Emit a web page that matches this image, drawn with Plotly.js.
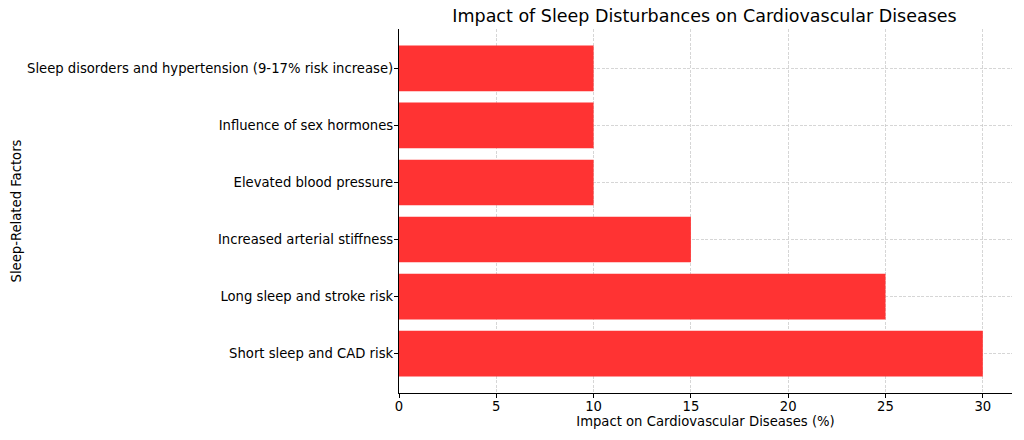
<!DOCTYPE html>
<html>
<head>
<meta charset="utf-8">
<script src="https://cdn.plot.ly/plotly-3.0.1.min.js"></script>
<style>html,body{margin:0;padding:0;background:#fff;}#chart{width:1024px;height:440px;}</style>
</head>
<body>
<div id="chart"></div>
<script>
const categories = [
  "Short sleep and CAD risk",
  "Long sleep and stroke risk",
  "Increased arterial stiffness",
  "Elevated blood pressure",
  "Influence of sex hormones",
  "Sleep disorders and hypertension (9-17% risk increase)"
];
const impactValues = [30, 25, 15, 10, 10, 10];
const xTickValues = [0, 5, 10, 15, 20, 25, 30];

const font = "DejaVu Sans, sans-serif";
const trace = {
  type: "bar",
  orientation: "h",
  y: categories,
  x: impactValues,
  marker: {color: "#ff3333", line: {width: 0}},
  hoverinfo: "skip"
};
const layout = {
  width: 1024, height: 440,
  margin: {l: 399, r: 12, t: 29, b: 47},
  paper_bgcolor: "#fff", plot_bgcolor: "#fff",
  bargap: 0.2,
  showlegend: false,
  title: {text: "Impact of Sleep Disturbances on Cardiovascular Diseases",
          font: {family: font, size: 17.5, color: "#000"},
          x: 0.688, xanchor: "center", y: 0.963, yanchor: "middle"},
  xaxis: {
    range: [0, 31.5], tickvals: xTickValues, ticktext: xTickValues.map(String),
    showline: true, linecolor: "#000", linewidth: 1.2,
    ticks: "outside", ticklen: 4, tickcolor: "#000", tickwidth: 1,
    ticklabelstandoff: -3,
    showgrid: true, gridcolor: "#cccccc", griddash: "3px,1.5px", gridwidth: 0.8,
    zeroline: false,
    tickfont: {family: font, size: 13.2, color: "#000"},
    title: {text: "Impact on Cardiovascular Diseases (%)", font: {family: font, size: 13.2, color: "#000"}, standoff: 1}
  },
  yaxis: {
    type: "category", range: [-0.69, 5.69],
    showline: true, linecolor: "#000", linewidth: 1.2,
    ticks: "outside", ticklen: 4, tickcolor: "#000", tickwidth: 1,
    ticklabelstandoff: -2,
    showgrid: true, gridcolor: "#cccccc", griddash: "3px,1.5px", gridwidth: 0.8,
    zeroline: false,
    tickfont: {family: font, size: 13.2, color: "#000"},
    title: {text: "Sleep-Related Factors", font: {family: font, size: 13.2, color: "#000"}, standoff: 2}
  }
};
Plotly.newPlot("chart", [trace], layout, {displayModeBar: false, staticPlot: true});
</script>
</body>
</html>
